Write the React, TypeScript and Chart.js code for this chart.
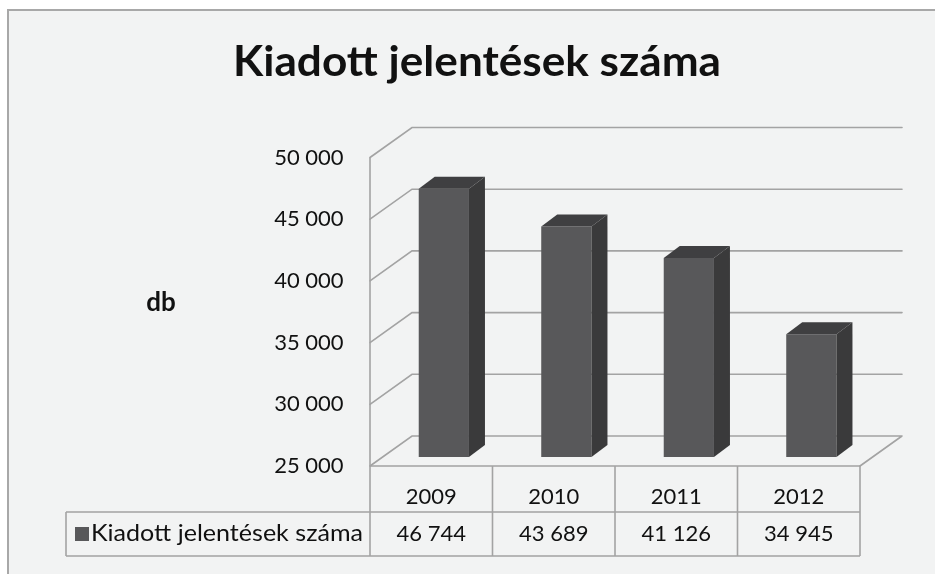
import React, { useEffect, useRef } from 'react';
import { Chart, registerables } from 'chart.js';

Chart.register(...registerables);

// ---- data ----
const chartTitle = 'Kiadott jelentések száma';
const seriesName = 'Kiadott jelentések száma';
const yAxisLabel = 'db';
const categories = ['2009', '2010', '2011', '2012'];
const values = [46744, 43689, 41126, 34945];
const yMin = 25000;
const yMax = 50000;
const yStep = 5000;

const fmt = (v: number) => String(v).replace(/\B(?=(\d{3})+(?!\d))/g, ' ');

// ---- style ----
const FONT = 'Lato, "Open Sans", sans-serif';
const TEXT = '#111111';
const GRID = '#a3a3a3';
const BG = '#f2f3f3';
const FRONT = '#58585a';
const TOP = '#3f3f41';
const SIDE = '#3a3a3b';

// 3D geometry (pixels)
const WALL_DX = 42;
const WALL_DY = -30;
const BAR_FRAC = 0.3; // depth position of the bar front face
const BAR_DX = 16;
const BAR_DY = -12;
const FRONT_SHIFT_X = -WALL_DX * BAR_FRAC; // bar plane -> front plane
const FRONT_SHIFT_Y = -WALL_DY * BAR_FRAC;

function fitText(ctx: CanvasRenderingContext2D, text: string, x: number, y: number, width: number, align: 'left' | 'center') {
  const w = ctx.measureText(text).width;
  const s = width / w;
  ctx.save();
  ctx.translate(x, y);
  ctx.scale(s, 1);
  ctx.textAlign = align;
  ctx.fillText(text, 0, 0);
  ctx.restore();
}

const decor = {
  id: 'decor3d',
  beforeDraw(chart: any) {
    const { ctx, width, height } = chart;
    ctx.save();
    ctx.fillStyle = '#ffffff';
    ctx.fillRect(0, 0, width, height);
    ctx.fillStyle = BG;
    ctx.fillRect(8, 10, width - 8, height - 10);
    ctx.strokeStyle = '#a8a8a8';
    ctx.lineWidth = 2;
    ctx.beginPath();
    ctx.moveTo(8, height);
    ctx.lineTo(8, 10);
    ctx.lineTo(width, 10);
    ctx.stroke();
    ctx.restore();
  },
  beforeDatasetsDraw(chart: any) {
    const { ctx, chartArea: ca } = chart;
    const ys = chart.scales.y;
    const fx0 = ca.left + FRONT_SHIFT_X;
    const fx1 = ca.right + FRONT_SHIFT_X;
    ctx.save();
    ctx.strokeStyle = GRID;
    ctx.lineWidth = 1.6;
    ctx.lineCap = 'round';
    ctx.beginPath();
    for (let v = yMin; v <= yMax; v += yStep) {
      const fy = ys.getPixelForValue(v) + FRONT_SHIFT_Y;
      ctx.moveTo(fx0, fy);
      ctx.lineTo(fx0 + WALL_DX, fy + WALL_DY);
      ctx.lineTo(fx1 + WALL_DX, fy + WALL_DY);
    }
    // floor right edge
    const fb = ys.getPixelForValue(yMin) + FRONT_SHIFT_Y;
    ctx.moveTo(fx1, fb);
    ctx.lineTo(fx1 + WALL_DX, fb + WALL_DY);
    ctx.stroke();
    ctx.restore();
  },
  afterDatasetsDraw(chart: any) {
    const { ctx, chartArea: ca } = chart;
    const ys = chart.scales.y;
    const meta = chart.getDatasetMeta(0);
    const floorPx = ys.getPixelForValue(yMin);
    ctx.save();
    meta.data.forEach((bar: any) => {
      const { x, y, base, width } = bar.getProps(['x', 'y', 'base', 'width'], true);
      const b = Math.min(base, floorPx);
      const l = x - width / 2;
      const r = x + width / 2;
      ctx.fillStyle = TOP;
      ctx.beginPath();
      ctx.moveTo(l, y);
      ctx.lineTo(r, y);
      ctx.lineTo(r + BAR_DX, y + BAR_DY);
      ctx.lineTo(l + BAR_DX, y + BAR_DY);
      ctx.closePath();
      ctx.fill();
      ctx.fillStyle = SIDE;
      ctx.beginPath();
      ctx.moveTo(r, y);
      ctx.lineTo(r + BAR_DX, y + BAR_DY);
      ctx.lineTo(r + BAR_DX, b + BAR_DY);
      ctx.lineTo(r, b);
      ctx.closePath();
      ctx.fill();
    });

    // front wall edge, floor front edge and data table
    const fx0 = ca.left + FRONT_SHIFT_X;
    const fx1 = ca.right + FRONT_SHIFT_X;
    const fTop = ys.getPixelForValue(yMax) + FRONT_SHIFT_Y;
    const fb = floorPx + FRONT_SHIFT_Y;
    const rowMid = fb + 46;
    const rowBot = fb + 90;
    const tableLeft = 66;
    ctx.strokeStyle = GRID;
    ctx.lineWidth = 1.6;
    ctx.beginPath();
    ctx.moveTo(fx0, fTop);
    ctx.lineTo(fx0, rowBot);
    ctx.moveTo(fx0, fb);
    ctx.lineTo(fx1, fb);
    const n = categories.length;
    for (let i = 1; i <= n; i++) {
      const cx = fx0 + ((fx1 - fx0) * i) / n;
      ctx.moveTo(cx, fb);
      ctx.lineTo(cx, rowBot);
    }
    ctx.moveTo(tableLeft, rowMid);
    ctx.lineTo(fx1, rowMid);
    ctx.moveTo(tableLeft, rowBot);
    ctx.lineTo(fx1, rowBot);
    ctx.moveTo(tableLeft, rowMid);
    ctx.lineTo(tableLeft, rowBot);
    ctx.stroke();

    // legend key + series name
    const rowCenter = (rowMid + rowBot) / 2;
    ctx.fillStyle = FRONT;
    ctx.fillRect(75, rowCenter - 7, 14, 14);
    ctx.fillStyle = TEXT;
    ctx.font = `23px ${FONT}`;
    ctx.textBaseline = 'middle';
    fitText(ctx, seriesName, 91, rowCenter, 272, 'left');

    // title
    ctx.font = `bold 42px ${FONT}`;
    ctx.textBaseline = 'alphabetic';
    fitText(ctx, chartTitle, 477, 76, 488, 'center');

    // y axis label
    ctx.font = `bold 26px ${FONT}`;
    ctx.textBaseline = 'middle';
    ctx.textAlign = 'center';
    ctx.fillText(yAxisLabel, 161, 303);
    ctx.restore();
  },
};

export default function App() {
  const ref = useRef<HTMLCanvasElement | null>(null);
  useEffect(() => {
    if (!ref.current) return;
    const chart = new Chart(ref.current, {
      type: 'bar',
      data: {
        labels: categories,
        datasets: [
          {
            label: seriesName,
            data: values,
            backgroundColor: FRONT,
            borderWidth: 0,
            barPercentage: 0.41,
            categoryPercentage: 1,
          },
        ],
      },
      options: {
        animation: false,
        responsive: false,
        maintainAspectRatio: false,
        layout: { padding: { left: 0, top: 148.5, right: 62.4, bottom: 0 } },
        plugins: { legend: { display: false }, title: { display: false }, tooltip: { enabled: false } },
        scales: {
          y: {
            min: yMin,
            max: yMax,
            grid: { display: false },
            border: { display: false },
            afterFit: (s: any) => {
              s.width = 382.6;
            },
            ticks: {
              stepSize: yStep,
              padding: 31,
              labelOffset: 9,
              color: TEXT,
              font: { family: FONT, size: 22 },
              callback: (v: any) => fmt(Number(v)),
            },
          },
          x: {
            grid: { display: false },
            border: { display: false },
            afterFit: (s: any) => {
              s.height = 117;
            },
            ticks: {
              autoSkip: false,
              maxRotation: 0,
              padding: 14,
              labelOffset: FRONT_SHIFT_X,
              color: TEXT,
              font: { family: FONT, size: 22, lineHeight: 1.65 },
              callback: (_v: any, i: number) => [categories[i], fmt(values[i])],
            },
          },
        },
      },
      plugins: [decor],
    });
    return () => chart.destroy();
  }, []);
  return (
    <div style={{ position: 'fixed', left: 0, top: 0, width: 935, height: 574 }}>
      <canvas ref={ref} width={935} height={574} style={{ display: 'block', width: 935, height: 574 }} />
    </div>
  );
}
